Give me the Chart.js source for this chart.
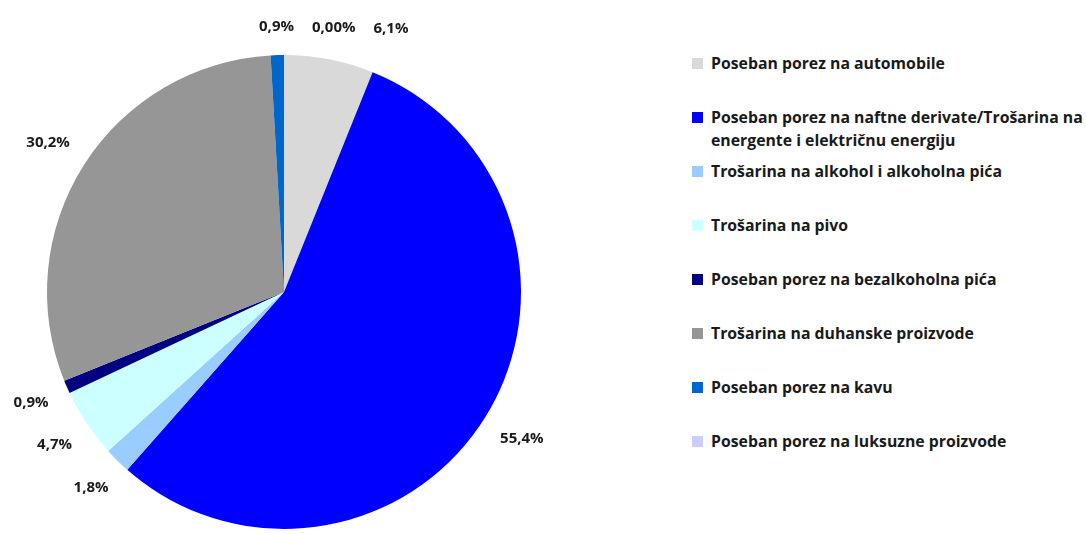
<!DOCTYPE html>
<html>
<head>
<meta charset="utf-8">
<script src="https://cdn.jsdelivr.net/npm/chart.js@4"></script>
<style>
  html, body { margin: 0; padding: 0; background: #fff; }
  body { width: 1086px; height: 534px; position: relative; overflow: hidden; font-family: "Open Sans", Lato, sans-serif; }
  #pieBox { position: absolute; left: 0; top: 0; width: 568px; height: 534px; }
  #legend { position: absolute; left: 692px; top: 52px; width: 394px; margin: 0; padding: 0; list-style: none; }
  #legend li { height: 54px; display: flex; align-items: flex-start; font-weight: bold; font-size: 15.8px; line-height: 23px; color: #1a1a1a; }
  #legend .sw { flex: 0 0 11px; width: 11px; height: 11px; margin: 6px 8px 0 0; }
</style>
</head>
<body>
<div id="pieBox"><canvas id="pie"></canvas></div>
<ul id="legend"></ul>
<script>
// --- DADOS ---
const categories = [
  'Poseban porez na automobile',
  'Poseban porez na naftne derivate/Trošarina na energente i električnu energiju',
  'Trošarina na alkohol i alkoholna pića',
  'Trošarina na pivo',
  'Poseban porez na bezalkoholna pića',
  'Trošarina na duhanske proizvode',
  'Poseban porez na kavu',
  'Poseban porez na luksuzne proizvode'
];
const shares = [6.1, 55.4, 1.8, 4.7, 0.9, 30.2, 0.9, 0];
const shareLabels = ['6,1%', '55,4%', '1,8%', '4,7%', '0,9%', '30,2%', '0,9%', '0,00%'];
const sliceColors = ['#d9d9d9', '#0000ff', '#99ccff', '#ccffff', '#000080', '#969696', '#0066cc', '#ccccff'];

// --- LEGENDA (HTML) ---
const legendEl = document.getElementById('legend');
categories.forEach((name, i) => {
  const li = document.createElement('li');
  li.innerHTML = `<span class="sw" style="background:${sliceColors[i]}"></span><span>${name}</span>`;
  legendEl.appendChild(li);
});

// rótulos fora da fatia, com ajuste simples para não sobrepor
const outsideLabels = {
  id: 'outsideLabels',
  afterDatasetsDraw(chart) {
    const c = chart.ctx;
    const arcs = chart.getDatasetMeta(0).data;
    c.save();
    c.font = 'bold 15px "Open Sans", Lato, sans-serif';
    c.fillStyle = '#1a1a1a';
    c.textAlign = 'center';
    c.textBaseline = 'middle';
    const boxes = [];
    arcs.forEach((arc, i) => {
      const p = arc.getProps(['x', 'y', 'startAngle', 'endAngle', 'outerRadius']);
      const mid = (p.startAngle + p.endAngle) / 2;
      const dx = Math.cos(mid), dy = Math.sin(mid);
      const w = c.measureText(shareLabels[i]).width, h = 15;
      const dist = p.outerRadius + 20 + Math.abs(dx) * w / 2 + Math.abs(dy) * h / 2;
      boxes.push({ i, mid, x: p.x + dx * dist, y: p.y + dy * dist, w, h });
    });
    // ordena da esquerda para a direita e empurra quem colide
    const sorted = boxes.slice().sort((a, b) => a.x - b.x);
    for (let k = 1; k < sorted.length; k++) {
      for (let j = 0; j < k; j++) {
        const a = sorted[j], b = sorted[k];
        const overlapY = Math.abs(a.y - b.y) < (a.h + b.h) / 2 + 2;
        const minX = (a.w + b.w) / 2 + 18;
        if (overlapY && b.x - a.x < minX && b.x >= a.x) b.x = a.x + minX;
      }
    }
    boxes.forEach(b => c.fillText(shareLabels[b.i], b.x, b.y));
    c.restore();
  }
};

const ctx = document.getElementById('pie').getContext('2d');
const pieChart = new Chart(ctx, {
  type: 'pie',
  data: {
    labels: categories,
    datasets: [{
      data: shares,
      backgroundColor: sliceColors,
      borderWidth: 0,
      hoverOffset: 0,
      offset: 0
    }]
  },
  options: {
    responsive: true,
    maintainAspectRatio: false,
    animation: false,
    layout: { padding: { top: 55, bottom: 5, left: 47, right: 47 } },
    plugins: {
      legend: { display: false },
      tooltip: { enabled: false }
    }
  },
  plugins: [outsideLabels]
});
</script>
</body>
</html>
